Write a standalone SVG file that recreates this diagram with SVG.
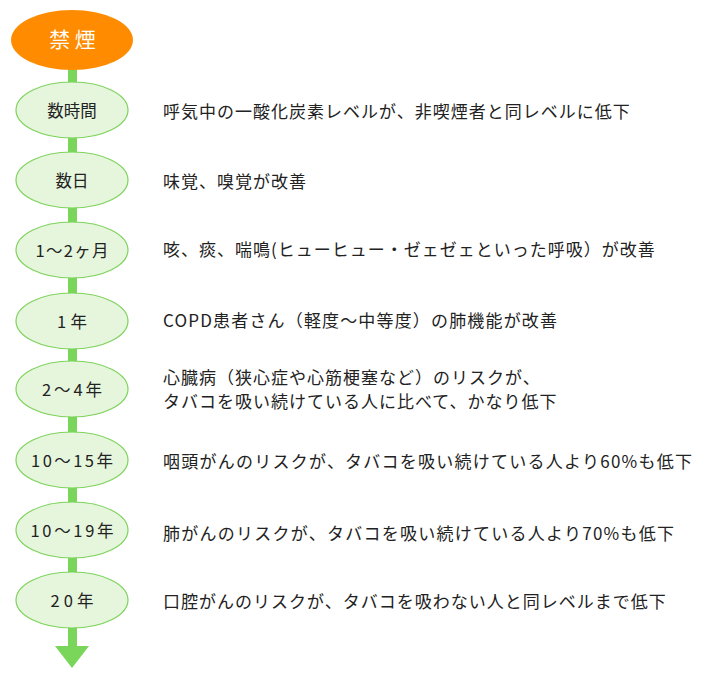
<svg xmlns="http://www.w3.org/2000/svg" width="710" height="676" viewBox="0 0 710 676">
<style>
.step{fill:#E6F6DD;stroke:#7DD35C;stroke-width:1.2}
.lbl{font-family:"Noto Sans CJK JP","Noto Sans",sans-serif;font-size:16.5px;fill:#222;text-anchor:middle}
.desc{font-family:"Noto Sans CJK JP","Noto Sans",sans-serif;font-size:17px;letter-spacing:1px;fill:#222}
</style>
<rect width="710" height="676" fill="#fff"/>
<g id="connectors">
<rect x="68" y="66" width="9" height="581" fill="#7AD65A"/>
<polygon points="55,646 89,646 72,668" fill="#7AD65A"/>
</g>
<g id="start">
<ellipse cx="72" cy="40" rx="61" ry="30" fill="#FF8C00"/>
<text x="72.5" y="47" font-family="Noto Sans CJK JP,sans-serif" font-size="21" fill="#fff" text-anchor="middle">禁 煙</text>
</g>
<g id="n1"><ellipse class="step" cx="72" cy="110" rx="56" ry="28"/><text class="lbl" x="72" y="116.5">数時間</text><text class="desc" x="163" y="118">呼気中の一酸化炭素レベルが、非喫煙者と同レベルに低下</text></g>
<g id="n2"><ellipse class="step" cx="72" cy="180" rx="56" ry="28"/><text class="lbl" x="72" y="186.5">数日</text><text class="desc" x="163" y="188">味覚、嗅覚が改善</text></g>
<g id="n3"><ellipse class="step" cx="72" cy="250" rx="56" ry="28"/><text class="lbl" x="72" y="256.5" textLength="73" lengthAdjust="spacing">1～2ヶ月</text><text class="desc" x="163" y="256">咳、痰、喘鳴(ヒューヒュー・ゼェゼェといった呼吸）が改善</text></g>
<g id="n4"><ellipse class="step" cx="72" cy="321" rx="56" ry="28"/><text class="lbl" x="72" y="327.5" textLength="30" lengthAdjust="spacing">1年</text><text class="desc" x="163" y="327" textLength="395" lengthAdjust="spacing">COPD患者さん（軽度～中等度）の肺機能が改善</text></g>
<g id="n5"><ellipse class="step" cx="72" cy="389" rx="56" ry="28"/><text class="lbl" x="72" y="395.5" textLength="60" lengthAdjust="spacing">2～4年</text><text class="desc" x="163" y="384">心臓病（狭心症や心筋梗塞など）のリスクが、</text><text class="desc" x="163" y="408">タバコを吸い続けている人に比べて、かなり低下</text></g>
<g id="n6"><ellipse class="step" cx="72" cy="460" rx="56" ry="28"/><text class="lbl" x="72" y="466.5" textLength="82" lengthAdjust="spacing">10～15年</text><text class="desc" x="163" y="468" textLength="530" lengthAdjust="spacing">咽頭がんのリスクが、タバコを吸い続けている人より60%も低下</text></g>
<g id="n7"><ellipse class="step" cx="72" cy="530" rx="56" ry="28"/><text class="lbl" x="72" y="536.5" textLength="83" lengthAdjust="spacing">10～19年</text><text class="desc" x="163" y="540" textLength="512" lengthAdjust="spacing">肺がんのリスクが、タバコを吸い続けている人より70%も低下</text></g>
<g id="n8"><ellipse class="step" cx="72" cy="600" rx="56" ry="28"/><text class="lbl" x="72" y="606.5" textLength="43" lengthAdjust="spacing">20年</text><text class="desc" x="163" y="608">口腔がんのリスクが、タバコを吸わない人と同レベルまで低下</text></g>
</svg>
